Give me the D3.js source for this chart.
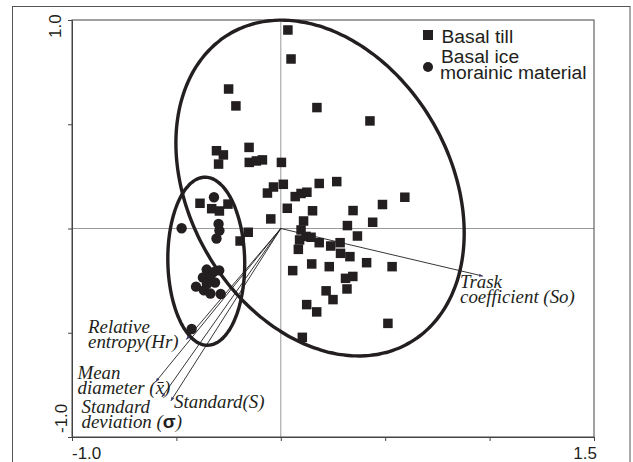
<!DOCTYPE html>
<html>
<head>
<meta charset="utf-8">
<script src="https://cdn.jsdelivr.net/npm/d3@7"></script>
<style>
  html, body { margin: 0; padding: 0; background: #fff; }
  svg { display: block; }
</style>
</head>
<body>
<svg id="chart" width="633" height="462"></svg>
<script>
// PCA biplot: sample scores (basal till vs basal ice morainic material) and variable loadings

// Basal till scores [PC1, PC2]
const basalTill = [
  [0.034, 0.952], [0.049, 0.813], [-0.250, 0.669], [-0.215, 0.588], [0.173, 0.580],
  [0.427, 0.516], [-0.308, 0.373], [-0.275, 0.353], [-0.298, 0.309], [-0.152, 0.389],
  [-0.151, 0.317], [-0.117, 0.324], [-0.088, 0.329], [0.003, 0.317], [0.012, 0.212],
  [-0.035, 0.199], [-0.064, 0.170], [0.069, 0.153], [0.097, 0.168], [0.125, 0.174],
  [0.184, 0.216], [0.268, 0.225], [0.031, 0.097], [0.152, 0.085], [0.346, 0.086],
  [0.487, 0.115], [0.594, 0.150], [-0.048, 0.046], [0.109, 0.036], [0.319, 0.014],
  [0.440, 0.030], [-0.387, 0.121], [-0.331, 0.095], [-0.294, 0.084], [-0.253, 0.117],
  [-0.156, -0.018], [-0.195, -0.060], [0.367, -0.036], [0.284, -0.068], [0.239, -0.084],
  [0.184, -0.068], [0.145, -0.042], [0.097, -0.007], [0.121, -0.038], [0.090, -0.055],
  [0.084, -0.100], [0.286, -0.119], [0.331, -0.135], [0.148, -0.170], [0.232, -0.183],
  [0.411, -0.164], [0.533, -0.183], [0.057, -0.202], [0.310, -0.239], [0.345, -0.230],
  [0.317, -0.290], [0.217, -0.299], [0.250, -0.341], [0.124, -0.365], [0.172, -0.400],
  [0.513, -0.455], [0.103, -0.522]
];

// Basal ice morainic material scores [PC1, PC2]
const basalIce = [
  [-0.320, 0.150], [-0.475, 0.001], [-0.298, 0.022], [-0.294, -0.010], [-0.308, -0.048],
  [-0.355, -0.197], [-0.323, -0.209], [-0.295, -0.201], [-0.339, -0.233], [-0.373, -0.235],
  [-0.315, -0.259], [-0.406, -0.279], [-0.368, -0.297], [-0.337, -0.312], [-0.288, -0.314],
  [-0.427, -0.482], [-0.354, -0.266]
];

// Variable loading vectors
const loadingNames = ["Trask coefficient (So)", "Relative entropy(Hr)", "Mean diameter (x̄)",
                      "Standard deviation (σ)", "Standard(S)"];
const loadingX = [0.967, -0.452, -0.598, -0.569, -0.526];
const loadingY = [-0.228, -0.532, -0.734, -0.808, -0.826];

// Group envelopes: centre, semi-axes, rotation (degrees, in data space)
const envelopeNames = ["Basal till", "Basal ice morainic material"];
const envelopeCentre = [[0.188, 0.194], [-0.357, -0.157]];
const envelopeAxes = [[0.857, 0.625], [0.403, 0.184]];
const envelopeAngle = [-60, 91];

// Axis ranges and labelled ticks
const xDomain = [-1.0, 1.5];
const yDomain = [-1.0, 1.0];
const xTicks = [-1.0, -0.5, 0, 0.5, 1.0, 1.5];
const yTicks = [-1.0, -0.5, 0, 0.5, 1.0];
const xTickLabels = ["-1.0", "1.5"];
const yTickLabels = ["1.0", "-1.0"];

const ink = "#231f20";
const svg = d3.select("#chart");

const x = d3.scaleLinear().domain(xDomain).range([72, 594]);
const y = d3.scaleLinear().domain(yDomain).range([437, 20]);

// outer panel border
svg.append("rect")
  .attr("x", 12.5).attr("y", 6.5).attr("width", 617.5).attr("height", 470)
  .attr("fill", "none").attr("stroke", "#555").attr("stroke-width", 1);

// zero reference lines
svg.append("line")
  .attr("x1", x(0)).attr("x2", x(0)).attr("y1", y(1)).attr("y2", y(-1))
  .attr("stroke", "#9a9a9a").attr("stroke-width", 1);
svg.append("line")
  .attr("x1", x(-1)).attr("x2", x(1.5)).attr("y1", y(0)).attr("y2", y(0))
  .attr("stroke", "#9a9a9a").attr("stroke-width", 1);

// plot frame
svg.append("rect")
  .attr("x", x(-1)).attr("y", y(1))
  .attr("width", x(1.5) - x(-1)).attr("height", y(-1) - y(1))
  .attr("fill", "none").attr("stroke", "#444").attr("stroke-width", 1);

// axes (ticks only, labels drawn separately)
const xAxis = d3.axisBottom(x).tickValues(xTicks).tickSize(4).tickFormat("");
const yAxis = d3.axisLeft(y).tickValues(yTicks).tickSize(4).tickFormat("");
const gx = svg.append("g").attr("transform", `translate(0,${y(-1)})`).call(xAxis);
const gy = svg.append("g").attr("transform", `translate(${x(-1)},0)`).call(yAxis);
[gx, gy].forEach(g => {
  g.select(".domain").attr("stroke", "#444");
  g.selectAll(".tick line").attr("stroke", "#444");
});

// tick labels
const tickFont = "'Liberation Sans', Arial, sans-serif";
svg.append("text").text(xTickLabels[0])
  .attr("x", x(-1)).attr("y", 459)
  .attr("font-family", tickFont).attr("font-size", 17).attr("fill", ink);
svg.append("text").text(xTickLabels[1])
  .attr("x", x(1.5) + 3).attr("y", 459).attr("text-anchor", "end")
  .attr("font-family", tickFont).attr("font-size", 17).attr("fill", ink);
svg.append("text").text(yTickLabels[0])
  .attr("transform", `translate(61,${y(1) + 18}) rotate(-90)`)
  .attr("font-family", tickFont).attr("font-size", 17).attr("fill", ink);
svg.append("text").text(yTickLabels[1])
  .attr("transform", `translate(66.5,${y(-1) - 4}) rotate(-90)`)
  .attr("font-family", tickFont).attr("font-size", 17).attr("fill", ink);

// group envelopes
const steps = d3.range(0, 360, 2).map(d => d * Math.PI / 180);
const envLine = d3.line().x(d => x(d[0])).y(d => y(d[1])).curve(d3.curveCardinalClosed);
envelopeNames.forEach((name, i) => {
  const [cx, cy] = envelopeCentre[i];
  const [a, b] = envelopeAxes[i];
  const th = envelopeAngle[i] * Math.PI / 180;
  const pts = steps.map(t => [
    cx + a * Math.cos(t) * Math.cos(th) - b * Math.sin(t) * Math.sin(th),
    cy + a * Math.cos(t) * Math.sin(th) + b * Math.sin(t) * Math.cos(th)
  ]);
  svg.append("path").attr("d", envLine(pts))
    .attr("fill", "none").attr("stroke", ink).attr("stroke-width", 3.4);
});

// sample points
const sq = 9.5;
svg.append("g").selectAll("rect").data(basalTill).join("rect")
  .attr("x", d => x(d[0]) - sq / 2).attr("y", d => y(d[1]) - sq / 2)
  .attr("width", sq).attr("height", sq).attr("fill", ink);
svg.append("g").selectAll("circle").data(basalIce).join("circle")
  .attr("cx", d => x(d[0])).attr("cy", d => y(d[1])).attr("r", 5.2).attr("fill", ink);

// loading arrows
svg.append("defs").append("marker")
  .attr("id", "head").attr("viewBox", "0 0 10 10").attr("refX", 9).attr("refY", 5)
  .attr("markerWidth", 6).attr("markerHeight", 4).attr("orient", "auto")
  .attr("markerUnits", "userSpaceOnUse")
  .append("path").attr("d", "M0,1 L10,5 L0,9 Z").attr("fill", "#3b3a6e");
loadingNames.forEach((n, i) => {
  svg.append("line")
    .attr("x1", x(0)).attr("y1", y(0))
    .attr("x2", x(loadingX[i])).attr("y2", y(loadingY[i]))
    .attr("stroke", ink).attr("stroke-width", 0.9)
    .attr("marker-end", "url(#head)");
});

// loading labels (two-line italic serif, slightly widened face)
const serif = "'Liberation Serif', 'Times New Roman', serif";
const labelLines = [
  ["Trask", "coefficient (So)"],
  ["Relative", "entropy(Hr)"],
  ["Mean", "diameter (x̄)"],
  ["Standard", "deviation (σ)"],
  ["Standard(S)"]
];
const labelPos = [[460, 288], [88, 333], [77.5, 379], [81.5, 413], [174, 408]];
labelLines.forEach((lines, i) => {
  lines.forEach((ln, j) => {
    const t = svg.append("text")
      .attr("transform", `translate(${labelPos[i][0]},${labelPos[i][1] + j * 14.5}) scale(1.05,1)`)
      .attr("font-family", serif).attr("font-style", "italic")
      .attr("font-size", 18).attr("fill", ink);
    if (ln.includes("σ")) {
      t.text(ln.replace("σ)", ""));
      t.append("tspan").text("σ").attr("font-family", tickFont)
        .attr("font-style", "normal").attr("font-weight", "bold");
      t.append("tspan").text(")");
    } else {
      t.text(ln);
    }
  });
});

// legend
const legendFont = "'Liberation Sans', Arial, sans-serif";
const legendText = (str, lx, ly) => svg.append("text").text(str)
  .attr("transform", `translate(${lx},${ly}) scale(1.07,1)`)
  .attr("font-family", legendFont).attr("font-size", 18).attr("fill", ink);
svg.append("rect").attr("x", 428 - 5).attr("y", 35 - 5).attr("width", 10).attr("height", 10).attr("fill", ink);
legendText(envelopeNames[0], 441.5, 43);
svg.append("circle").attr("cx", 428).attr("cy", 67).attr("r", 5).attr("fill", ink);
legendText("Basal ice", 441, 63);
legendText("morainic material", 440, 79);
</script>
</body>
</html>
